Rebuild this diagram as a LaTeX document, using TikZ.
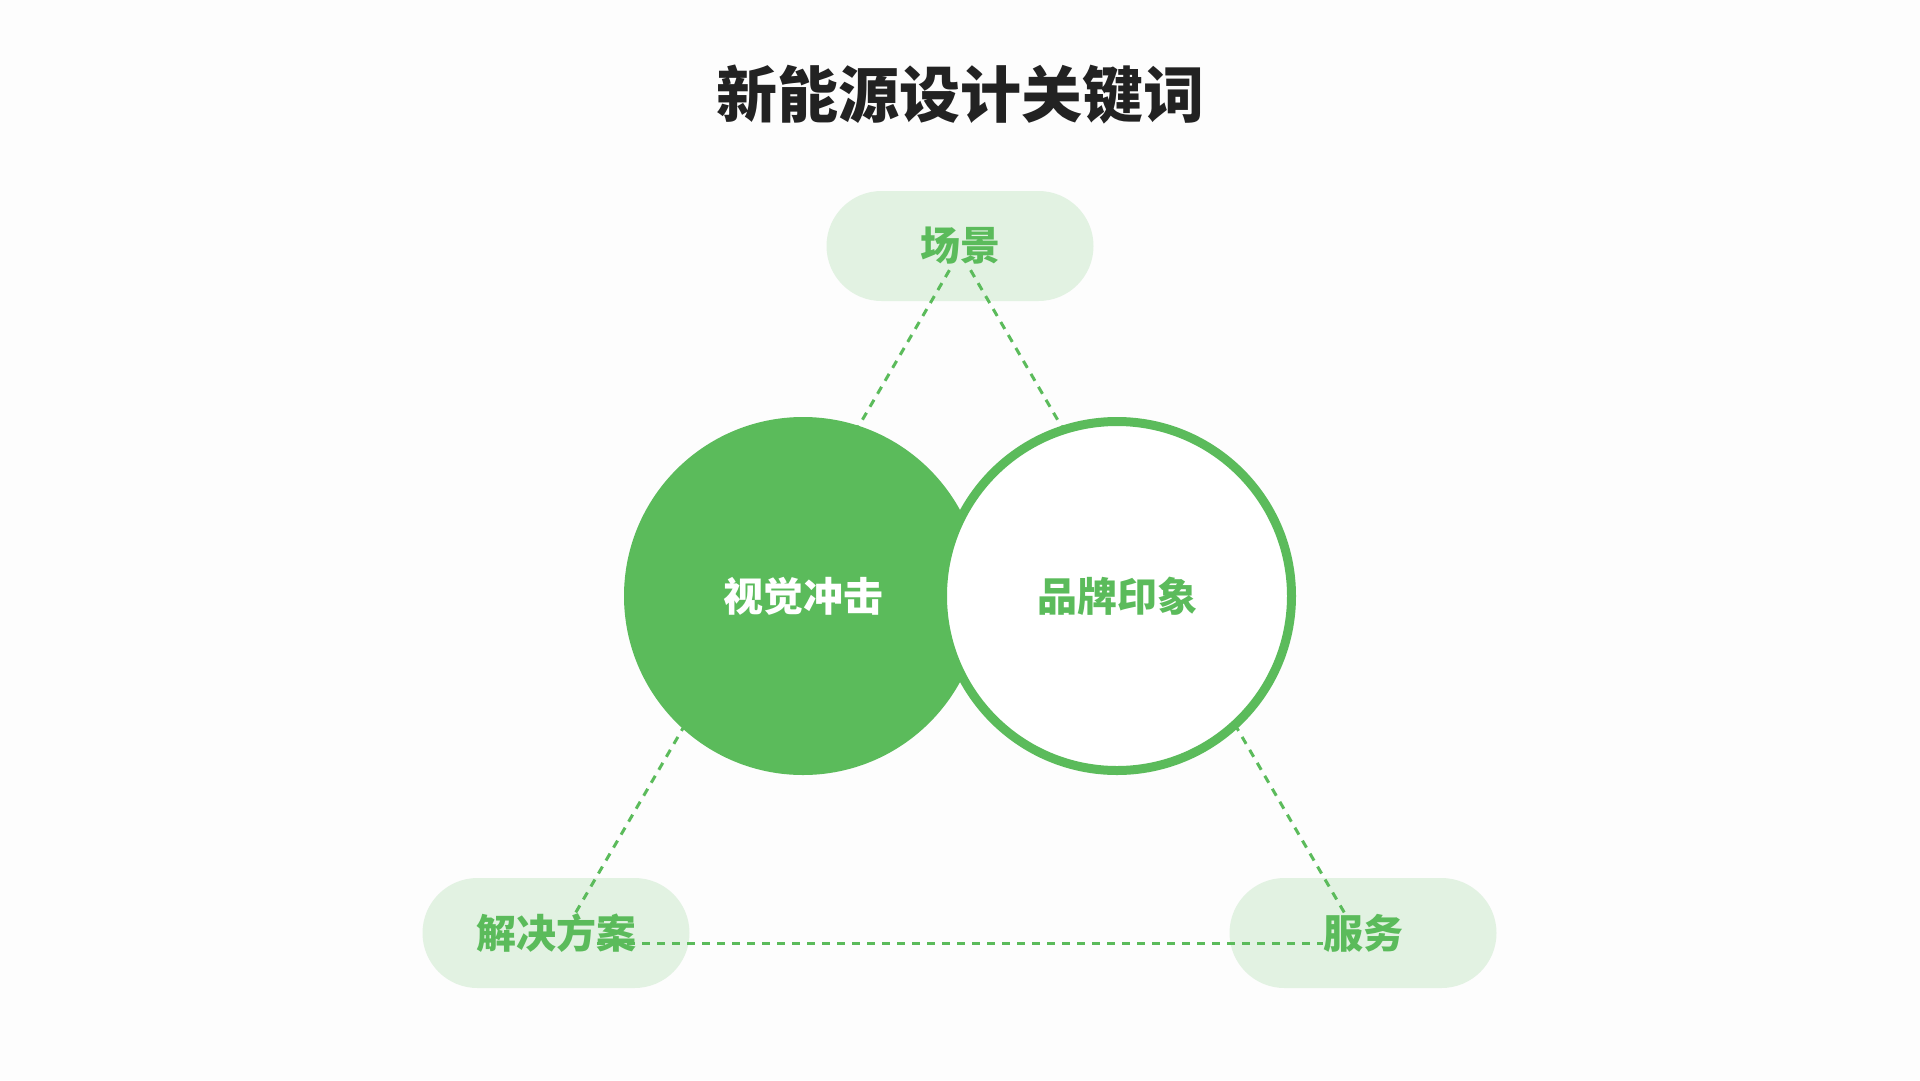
\documentclass[tikz,border=0pt]{standalone}
\usepackage{fontspec}
\newfontfamily\cjk{Noto Sans CJK SC}
\definecolor{gr}{HTML}{5BBB5B}
\definecolor{pillc}{HTML}{E2F2E2}
\definecolor{bgc}{HTML}{FDFDFD}
\definecolor{titlec}{HTML}{222222}
\tikzset{
  pill/.style={rectangle, rounded corners=55pt, fill=pillc, minimum width=267pt, minimum height=110pt, inner sep=0pt},
  lbl/.style={font=\cjk\bfseries\fontsize{40}{46}\selectfont, text=gr, inner sep=0pt},
  dashln/.style={draw=gr, line width=3pt, dash pattern=on 8pt off 7pt},
  fullc/.style={circle, fill=gr, minimum size=358pt, inner sep=0pt},
  ringc/.style={circle, draw=gr, fill=white, line width=9pt, minimum size=349pt, inner sep=0pt}
}
\begin{document}
\begin{tikzpicture}[x=1pt,y=-1pt]
\path[fill=bgc] (0,0) rectangle (1920,1080);
\useasboundingbox (0,0) rectangle (1920,1080);
\node[font=\cjk\bfseries\fontsize{61}{71}\selectfont, text=titlec] (title) at (960,95) {新能源设计关键词};
% pills
\node[pill] (ptop) at (960,246) {};
\node[pill] (pleft) at (556,933) {};
\node[pill] (pright) at (1363,933) {};
% triangle vertices
\coordinate (vt) at (960,252);
\coordinate (vl) at (558,943);
\coordinate (vr) at (1362,943);
\draw[dashln, shorten <=21pt, shorten >=35pt] (vt) -- (vl);
\draw[dashln, shorten <=21pt, shorten >=35pt] (vt) -- (vr);
\draw[dashln, shorten <=39pt, shorten >=39pt] (vl) -- (vr);
% circles
\node[fullc] (c1) at (803,596) {};
\node[ringc] (c2) at (1117,596) {};
% labels
\node[lbl] (ttop) at (ptop) {场景};
\node[lbl] (tleft) at (pleft) {解决方案};
\node[lbl] (tright) at (pright) {服务};
\node[lbl, text=white] (t1) at (c1) {视觉冲击};
\node[lbl] (t2) at (c2) {品牌印象};
\end{tikzpicture}
\end{document}
